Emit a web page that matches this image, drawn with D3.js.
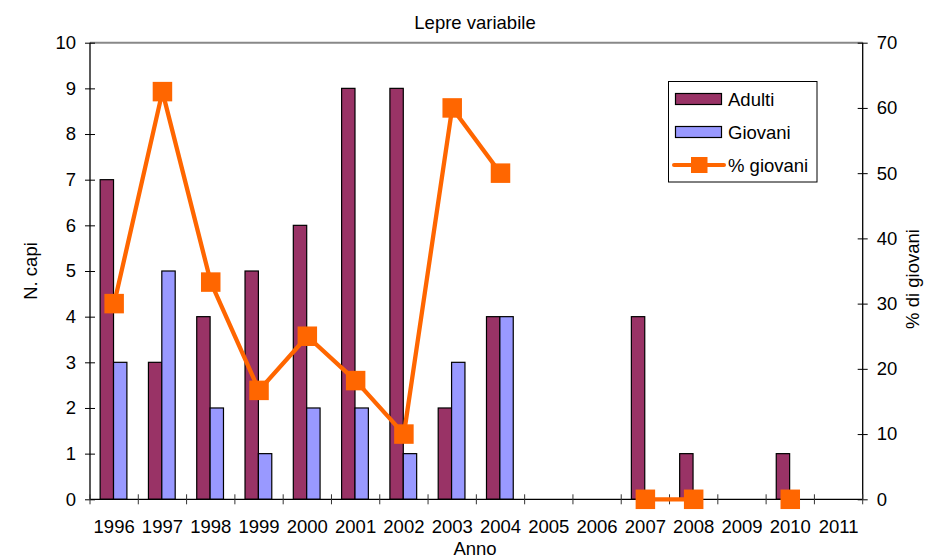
<!DOCTYPE html>
<html>
<head>
<meta charset="utf-8">
<script src="https://cdn.jsdelivr.net/npm/d3@7"></script>
<style>
  html, body { margin: 0; padding: 0; background: #fff; }
  svg { display: block; font-family: "Liberation Sans", Arial, sans-serif; }
</style>
</head>
<body>
<svg id="chart" width="941" height="559"></svg>
<script>
const years = ["1996","1997","1998","1999","2000","2001","2002","2003","2004","2005","2006","2007","2008","2009","2010","2011"];
const adulti = [7,3,4,5,6,9,9,2,4,0,0,4,1,0,1,0];
const giovani = [3,5,2,1,2,2,1,3,4,0,0,0,0,0,0,0];
const pctGiovani = [30,62.5,33.3,16.7,25,18.2,10,60,50,null,null,0,0,null,0,null];
const leftTicks = [0,1,2,3,4,5,6,7,8,9,10];
const rightTicks = [0,10,20,30,40,50,60,70];

const colAdulti = "#993366", colGiovani = "#9999FF", colLine = "#FF6600";
const svg = d3.select("#chart");
const L = 90, R = 862.7, T = 42.7, B = 499.3;
const fs = 18.5;
const ff = "Liberation Sans, Arial, sans-serif";

const x = d3.scaleBand().domain(years).range([L, R]).padding(0);
const yL = d3.scaleLinear().domain([0, 10]).range([B, T]);
const yR = d3.scaleLinear().domain([0, 70]).range([B, T]);
const bw = x.bandwidth();
const barW = bw * 0.277;
const off = bw * 0.21;

// top border
svg.append("line").attr("x1", L).attr("x2", R).attr("y1", T).attr("y2", T)
  .attr("stroke", "#888").attr("stroke-width", 2);

// bars
const g = svg.append("g");
years.forEach((yr, i) => {
  if (adulti[i] > 0) g.append("rect").attr("x", x(yr) + off).attr("y", yL(adulti[i]))
    .attr("width", barW).attr("height", yL(0) - yL(adulti[i]))
    .attr("fill", colAdulti).attr("stroke", "#000").attr("stroke-width", 1.2);
  if (giovani[i] > 0) g.append("rect").attr("x", x(yr) + off + barW).attr("y", yL(giovani[i]))
    .attr("width", barW).attr("height", yL(0) - yL(giovani[i]))
    .attr("fill", colGiovani).attr("stroke", "#000").attr("stroke-width", 1.2);
});

// left axis
const axL = svg.append("g").attr("transform", `translate(${L},0)`)
  .call(d3.axisLeft(yL).tickValues(leftTicks).tickSize(5).tickPadding(9).tickFormat(d3.format("d")));
axL.selectAll("line").attr("x2", -5).attr("x1", 5).attr("stroke", "#000");
axL.select(".domain").attr("d", `M0,${T}V${B}`).attr("stroke", "#000").attr("stroke-width", 1.3);
axL.selectAll("text").attr("font-size", fs).attr("fill", "#000").attr("font-family", ff);

// right axis
const axR = svg.append("g").attr("transform", `translate(${R},0)`)
  .call(d3.axisRight(yR).tickValues(rightTicks).tickSize(5).tickPadding(9).tickFormat(d3.format("d")));
axR.selectAll("line").attr("x2", 5).attr("x1", -5).attr("stroke", "#000");
axR.select(".domain").attr("d", `M0,${T}V${B}`).attr("stroke", "#000").attr("stroke-width", 1.3);
axR.selectAll("text").attr("font-size", fs).attr("fill", "#000").attr("font-family", ff);

// x axis
const axX = svg.append("g").attr("transform", `translate(0,${B})`)
  .call(d3.axisBottom(x).tickSize(0).tickPadding(20.5));
axX.select(".domain").attr("d", `M${L},0H${R}`).attr("stroke", "#000").attr("stroke-width", 1.3);
axX.selectAll("text").attr("font-size", fs).attr("fill", "#000").attr("font-family", ff);
// boundary ticks
const bounds = years.map(y => x(y)).concat([R]);
axX.selectAll("line.bt").data(bounds).join("line").attr("class", "bt")
  .attr("x1", d => d).attr("x2", d => d).attr("y1", -5).attr("y2", 5)
  .attr("stroke", "#333").attr("stroke-width", 1);

// line
const line = d3.line().defined(d => d.v !== null)
  .x(d => x(d.y) + bw / 2).y(d => yR(d.v));
const ldata = years.map((y, i) => ({ y, v: pctGiovani[i] }));
svg.append("path").datum(ldata).attr("d", line).attr("fill", "none")
  .attr("stroke", colLine).attr("stroke-width", 4.3).attr("stroke-linejoin", "round");
const ms = 19.5;
svg.selectAll("rect.mk").data(ldata.filter(d => d.v !== null)).join("rect").attr("class", "mk")
  .attr("x", d => x(d.y) + bw / 2 - ms / 2).attr("y", d => yR(d.v) - ms / 2)
  .attr("width", ms).attr("height", ms).attr("fill", colLine);

// title & axis titles
svg.append("text").attr("x", 475).attr("y", 29).attr("text-anchor", "middle")
  .attr("font-size", fs).text("Lepre variabile");
svg.append("text").attr("x", 475).attr("y", 555).attr("text-anchor", "middle")
  .attr("font-size", fs).text("Anno");
svg.append("text").attr("transform", "translate(37,271) rotate(-90)").attr("text-anchor", "middle")
  .attr("font-size", fs).text("N. capi");
svg.append("text").attr("transform", "translate(919,279) rotate(-90)").attr("text-anchor", "middle")
  .attr("font-size", fs).text("% di giovani");

// legend
const lg = svg.append("g");
lg.append("rect").attr("x", 668.5).attr("y", 81.5).attr("width", 148.5).attr("height", 100.5)
  .attr("fill", "#fff").attr("stroke", "#000").attr("stroke-width", 1);
const legItems = [
  { name: "Adulti", type: "bar", color: colAdulti, y: 99 },
  { name: "Giovani", type: "bar", color: colGiovani, y: 132 },
  { name: "% giovani", type: "line", color: colLine, y: 165 }
];
legItems.forEach(it => {
  if (it.type === "bar") {
    lg.append("rect").attr("x", 675.5).attr("y", it.y - 5.5).attr("width", 46).attr("height", 11)
      .attr("fill", it.color).attr("stroke", "#000").attr("stroke-width", 1.2);
  } else {
    lg.append("line").attr("x1", 674).attr("x2", 724).attr("y1", it.y).attr("y2", it.y)
      .attr("stroke", it.color).attr("stroke-width", 4).attr("stroke-linecap", "round");
    lg.append("rect").attr("x", 691).attr("y", it.y - 8).attr("width", 16.5).attr("height", 16).attr("fill", it.color);
  }
  lg.append("text").attr("x", 728).attr("y", it.y + 6.5).attr("font-size", fs).text(it.name);
});
</script>
</body>
</html>
